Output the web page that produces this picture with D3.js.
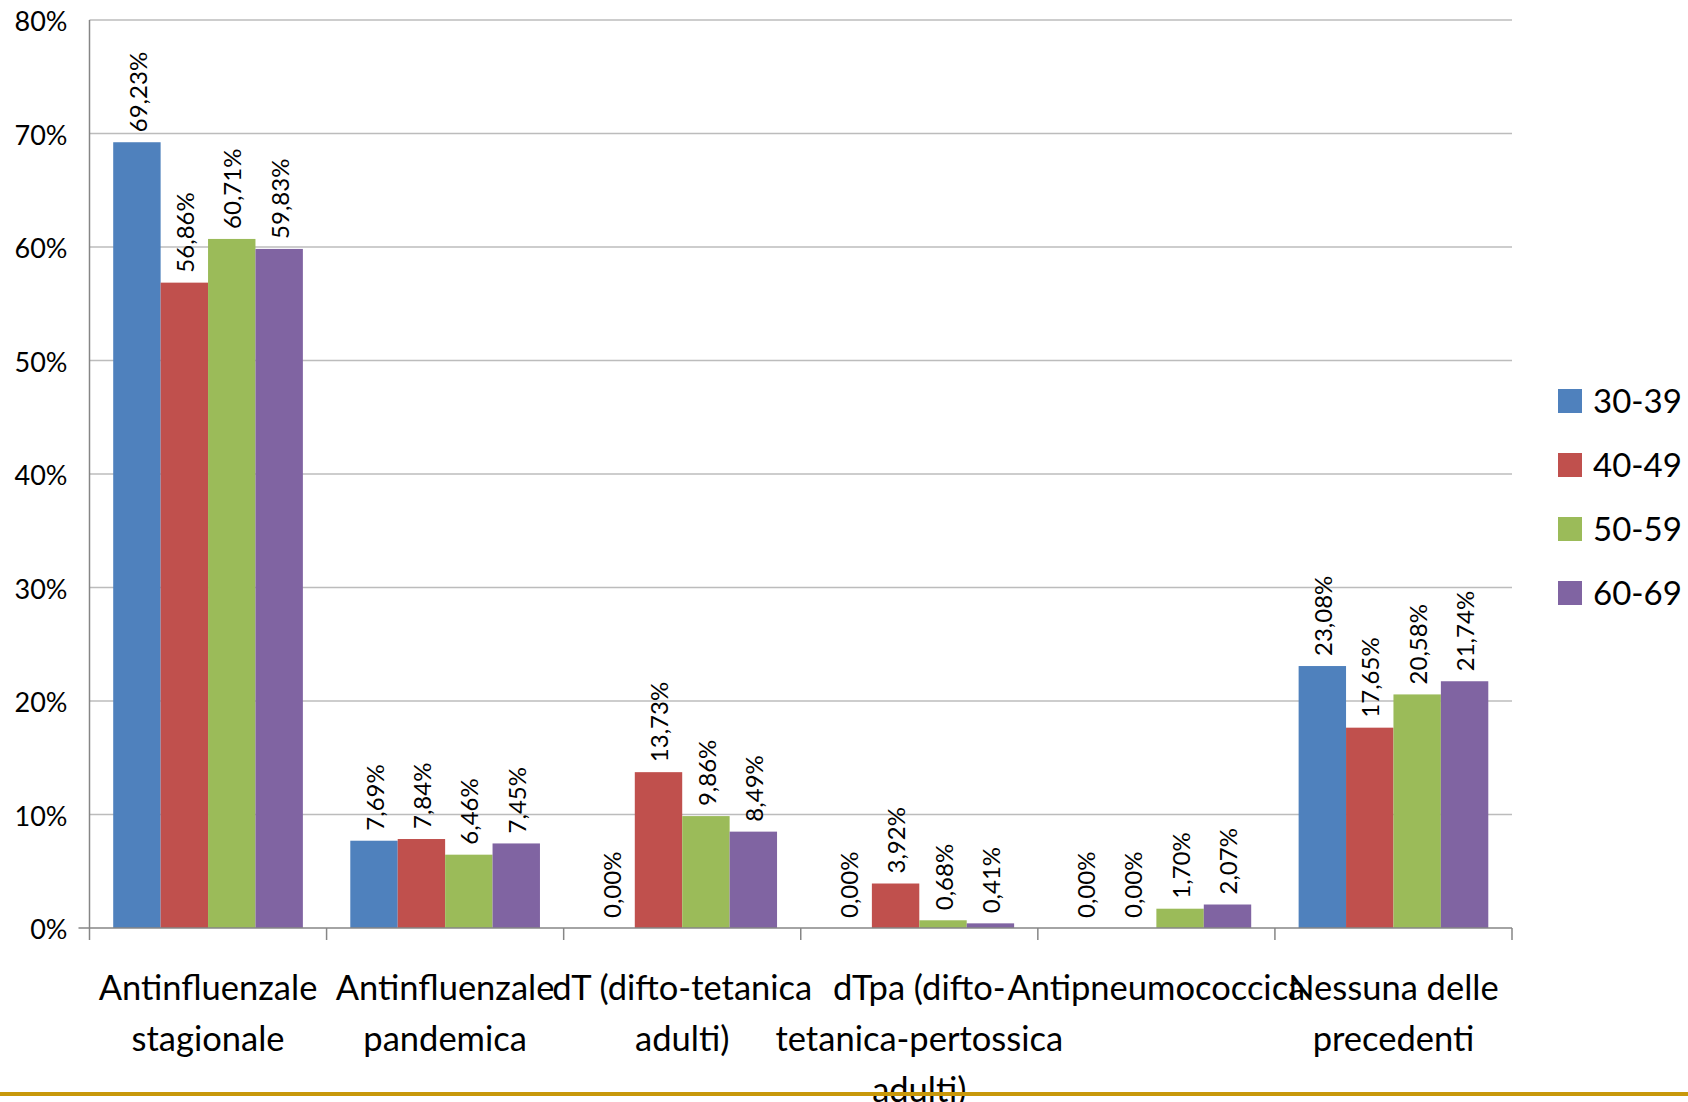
<!DOCTYPE html>
<meta charset="utf-8">
<style>
	body { margin: 0; background: #fff; }
	svg { display: block; font-family: Lato, "Open Sans", sans-serif; }
	.grid line { stroke: #bcbcbc; stroke-width: 1.5; }
	.axis path, .axis line { stroke: #868686; stroke-width: 1.5; fill: none; }
</style>
<svg width="1688" height="1102" class="graph"></svg>
<script src="https://cdn.jsdelivr.net/npm/d3@7"></script>
<script>
	// categories, wrapped the way the original labels wrap
	var categories = ["Antinfluenzale stagionale", "Antinfluenzale pandemica", "dT (difto-tetanica adulti)",
		"dTpa (difto-tetanica-pertossica adulti)", "Antipneumococcica", "Nessuna delle precedenti"];
	var categoryLines = [
		["Antinfluenzale", "stagionale"],
		["Antinfluenzale", "pandemica"],
		["dT (difto-tetanica", "adulti)"],
		["dTpa (difto-", "tetanica-pertossica", "adulti)"],
		["Antipneumococcica"],
		["Nessuna delle", "precedenti"]
	];
	var ageGroups = ["30-39", "40-49", "50-59", "60-69"];
	var colors = ["#4F81BD", "#C0504D", "#9BBB59", "#8064A2"];

	var s30_39 = [69.23, 7.69, 0.00, 0.00, 0.00, 23.08];
	var s40_49 = [56.86, 7.84, 13.73, 3.92, 0.00, 17.65];
	var s50_59 = [60.71, 6.46, 9.86, 0.68, 1.70, 20.58];
	var s60_69 = [59.83, 7.45, 8.49, 0.41, 2.07, 21.74];
	var series = [s30_39, s40_49, s50_59, s60_69];

	var yTicks = [0, 10, 20, 30, 40, 50, 60, 70, 80];

	var svg = d3.select("svg"),
	margin = {top: 20, left: 89.5, right: 176, bottom: 174},
	width = +svg.attr("width") - margin.left - margin.right,
	height = +svg.attr("height") - margin.top - margin.bottom;

	var x0 = d3.scaleBand().domain(d3.range(categories.length)).range([0, width]).paddingInner(0).paddingOuter(0);
	var x1 = d3.scaleBand().domain(d3.range(ageGroups.length)).range([0, x0.bandwidth()]).paddingOuter(0.5).paddingInner(0);
	var y = d3.scaleLinear().domain([0, 80]).range([height, 0]);

	var fmt = function(v) { return v.toFixed(2).replace(".", ",") + "%"; };

	var g = svg.append("g")
	.attr("transform", "translate(" + margin.left + "," + margin.top + ")");

	// gridlines
	g.append("g")
	.attr("class", "grid")
	.selectAll("line")
	.data(yTicks.filter(function(t) { return t > 0; }))
	.enter().append("line")
	.attr("x1", 0).attr("x2", width)
	.attr("y1", function(d) { return y(d); })
	.attr("y2", function(d) { return y(d); });

	// y tick labels
	g.append("g")
	.selectAll("text")
	.data(yTicks)
	.enter().append("text")
	.attr("x", -22)
	.attr("y", function(d) { return y(d) + 11; })
	.attr("text-anchor", "end")
	.attr("font-size", 27)
	.attr("fill", "#000")
	.text(function(d) { return d + "%"; });

	// bars
	var groups = g.selectAll(".cat")
	.data(categories)
	.enter().append("g")
	.attr("class", "cat")
	.attr("transform", function(d, i) { return "translate(" + x0(i) + ",0)"; });

	groups.each(function(c, ci) {
		var grp = d3.select(this);
		series.forEach(function(s, si) {
			var v = s[ci];
			grp.append("rect")
			.attr("x", x1(si))
			.attr("y", y(v))
			.attr("width", x1.bandwidth())
			.attr("height", height - y(v))
			.attr("fill", colors[si]);

			var cx = x1(si) + x1.bandwidth() / 2 + 1;
			var ty = y(v) - 10;
			grp.append("text")
			.attr("transform", "translate(" + cx + "," + ty + ") rotate(-90)")
			.attr("dy", "0.36em")
			.attr("font-size", 24)
			.attr("fill", "#000")
			.text(fmt(v));
		});
	});

	// axes
	var yAxisLine = g.append("g").attr("class", "axis");
	yAxisLine.append("line").attr("x1", 0).attr("x2", 0).attr("y1", 0).attr("y2", height);

	var xAxis = d3.axisBottom(x0).tickSize(12).tickFormat("");
	var xg = g.append("g")
	.attr("class", "axis axis--x")
	.attr("transform", "translate(0," + height + ")")
	.call(xAxis);
	// ticks sit between categories, not at their centres
	xg.selectAll(".tick").remove();
	xg.select(".domain").attr("d", "M-11,0H" + width);
	xg.selectAll(".sep")
	.data(d3.range(categories.length + 1))
	.enter().append("line")
	.attr("class", "sep")
	.attr("x1", function(d) { return d * x0.step(); })
	.attr("x2", function(d) { return d * x0.step(); })
	.attr("y1", 0).attr("y2", 12);

	// bottom rule of the slide
	svg.append("rect")
	.attr("x", 0).attr("y", 1092)
	.attr("width", 1688).attr("height", 4)
	.attr("fill", "#C8980A");

	// category labels
	g.append("g")
	.selectAll("text")
	.data(categoryLines)
	.enter().append("text")
	.attr("text-anchor", "middle")
	.attr("font-size", 34.5)
	.attr("fill", "#000")
	.attr("x", function(d, i) { return x0(i) + x0.bandwidth() / 2; })
	.each(function(lines) {
		var t = d3.select(this);
		lines.forEach(function(l, li) {
			t.append("tspan")
			.attr("x", t.attr("x"))
			.attr("y", 980 + li * 51)
			.text(l);
		});
	});

	// legend
	var legend = svg.append("g")
	.attr("transform", "translate(1558,389)");
	var items = legend.selectAll("g")
	.data(ageGroups)
	.enter().append("g")
	.attr("transform", function(d, i) { return "translate(0," + i * 64 + ")"; });
	items.append("rect")
	.attr("width", 24).attr("height", 24)
	.attr("fill", function(d, i) { return colors[i]; });
	items.append("text")
	.attr("x", 35).attr("y", 24)
	.attr("font-size", 33)
	.attr("fill", "#000")
	.text(function(d) { return d; });
</script>
